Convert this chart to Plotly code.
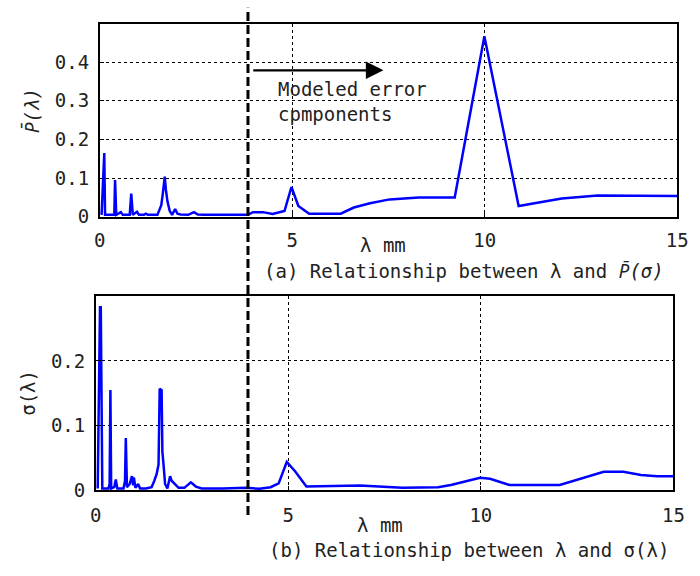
import plotly.graph_objects as go

# ---- data ----
lam_p = [0.05, 0.12, 0.14, 0.30, 0.38, 0.40, 0.43, 0.55, 0.60, 0.78, 0.82, 0.86, 0.97, 1.02,
         1.15, 1.20, 1.25, 1.50, 1.60, 1.64, 1.69, 1.72, 1.76, 1.82, 1.88, 1.96, 2.02, 2.10,
         2.30, 2.45, 2.55, 2.70, 3.00, 3.50, 3.85, 3.98, 4.24, 4.49, 4.74, 4.80, 4.98, 5.16,
         5.44, 6.26, 6.60, 7.02, 7.53, 8.03, 8.29, 9.22, 9.99, 10.88, 12.00, 12.93, 15.00]
p_bar = [0.005, 0.165, 0.005, 0.005, 0.005, 0.095, 0.005, 0.012, 0.005, 0.005, 0.060, 0.005, 0.013, 0.005,
         0.005, 0.008, 0.005, 0.005, 0.030, 0.060, 0.104, 0.070, 0.040, 0.015, 0.005, 0.020, 0.008, 0.006,
         0.005, 0.012, 0.006, 0.005, 0.005, 0.005, 0.005, 0.012, 0.012, 0.007, 0.015, 0.015, 0.077, 0.028,
         0.008, 0.008, 0.024, 0.035, 0.045, 0.049, 0.050, 0.050, 0.467, 0.028, 0.047, 0.055, 0.054]

lam_s = [0.05, 0.11, 0.13, 0.15, 0.17, 0.33, 0.36, 0.38, 0.40, 0.48, 0.52, 0.56, 0.72, 0.76, 0.78,
         0.81, 0.88, 0.94, 0.97, 0.99, 1.03, 1.10, 1.15, 1.30, 1.45, 1.52, 1.58, 1.63, 1.66, 1.71,
         1.73, 1.76, 1.80, 1.86, 1.93, 1.97, 2.02, 2.08, 2.15, 2.30, 2.47, 2.60, 2.75, 3.30, 3.90,
         4.25, 4.54, 4.75, 4.96, 5.17, 5.47, 6.86, 7.28, 7.96, 8.89, 9.22, 9.98, 10.24, 10.74,
         12.05, 13.19, 13.70, 14.16, 14.58, 15.00]
sigma = [0.003, 0.283, 0.283, 0.163, 0.003, 0.003, 0.010, 0.155, 0.003, 0.005, 0.017, 0.003, 0.003, 0.015, 0.081,
         0.005, 0.010, 0.022, 0.008, 0.020, 0.004, 0.010, 0.003, 0.003, 0.005, 0.015, 0.025, 0.040, 0.157, 0.155,
         0.060, 0.040, 0.010, 0.003, 0.022, 0.015, 0.012, 0.008, 0.004, 0.004, 0.0125, 0.006, 0.003, 0.003, 0.004,
         0.0025, 0.005, 0.011, 0.044, 0.030, 0.006, 0.0075, 0.0065, 0.004, 0.005, 0.0085, 0.0196, 0.018, 0.0085,
         0.0085, 0.0287, 0.0287, 0.024, 0.022, 0.022]

x_ticks = [0, 5, 10, 15]
x_ticktext = ["0", "5", "10", "15"]
yp_ticks = [0, 0.1, 0.2, 0.3, 0.4]
yp_ticktext = ["0", "0.1", "0.2", "0.3", "0.4"]
ys_ticks = [0, 0.1, 0.2]
ys_ticktext = ["0", "0.1", "0.2"]

W, H = 700, 576
def px(x):
    return x / W
def py(y):
    return (H - y) / H

FONT = "DejaVu Sans Mono"
FS = 19
TXT = "#222222"
BLUE = "#0000FF"
PBAR = "<span style=\"font-family:'Noto Sans'\"><i>P\u0304</i></span>"

fig = go.Figure()
fig.add_trace(go.Scatter(x=lam_p, y=p_bar, mode="lines", line=dict(color=BLUE, width=2.5),
                         xaxis="x", yaxis="y", showlegend=False))
fig.add_trace(go.Scatter(x=lam_s, y=sigma, mode="lines", line=dict(color=BLUE, width=2.5),
                         xaxis="x2", yaxis="y2", showlegend=False))

axis_common = dict(showline=True, mirror=True, linecolor="black", linewidth=1.5,
                   showgrid=True, gridcolor="black", gridwidth=1, griddash="3px,3px",
                   zeroline=False, ticks="inside", ticklen=5, tickcolor="black",
                   tickfont=dict(family=FONT, size=FS, color=TXT))

fig.update_layout(
    width=W, height=H,
    margin=dict(l=0, r=0, t=0, b=0),
    paper_bgcolor="white", plot_bgcolor="white",
    xaxis=dict(domain=[px(96), px(688)], range=[0, 15], tickvals=x_ticks, ticktext=x_ticktext,
               anchor="y", ticklabelstandoff=6, **axis_common),
    yaxis=dict(domain=[py(221), py(24)], range=[0, 0.5], tickvals=yp_ticks, ticktext=yp_ticktext,
               anchor="x", ticklabelstandoff=5, **axis_common),
    xaxis2=dict(domain=[px(92), px(684)], range=[0, 15], tickvals=x_ticks, ticktext=x_ticktext,
                anchor="y2", ticklabelstandoff=7, **axis_common),
    yaxis2=dict(domain=[py(500), py(302)], range=[0, 0.3], tickvals=ys_ticks, ticktext=ys_ticktext,
                anchor="x2", ticklabelstandoff=5, **axis_common),
)

# thick dashed divider line spanning both panels
fig.add_shape(type="line", xref="paper", yref="paper", x0=px(248), x1=px(248),
              y0=py(525), y1=py(8), line=dict(color="black", width=3, dash="9px,4px"))

# arrow
fig.add_annotation(x=7.37, y=0.379, ax=3.95, ay=0.379, xref="x", yref="y", axref="x", ayref="y",
                   text="", showarrow=True, arrowhead=2, arrowsize=1.6, arrowwidth=2.2,
                   arrowcolor="black")

def txt(text, x, y, xanchor="center", size=FS, angle=0):
    fig.add_annotation(text=text, x=px(x), y=py(y), xref="paper", yref="paper",
                       xanchor=xanchor, yanchor="middle", showarrow=False, textangle=angle,
                       align="left", font=dict(family=FONT, size=size, color=TXT))

txt("Modeled error<br>cpmponents", 277, 103, xanchor="left")
txt("λ mm", 386, 250)
txt("(a) Relationship between λ and " + PBAR + "<i>(σ)</i>", 262, 276, xanchor="left")
txt("λ mm", 383, 535)
txt("(b) Relationship between λ and σ(λ)", 268, 561, xanchor="left")
txt(PBAR + "<i>(λ)</i>", 26, 113, angle=-90)
txt("σ(λ)", 23, 400, angle=-90)

fig.write_html("out.html")
